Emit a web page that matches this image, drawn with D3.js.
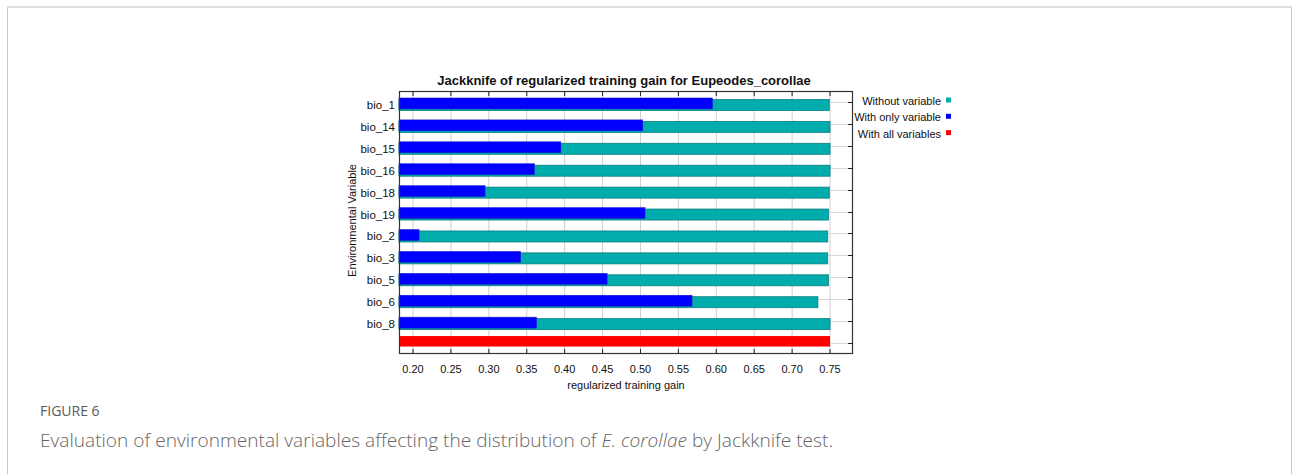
<!DOCTYPE html>
<html>
<head>
<meta charset="utf-8">
<script src="https://cdn.jsdelivr.net/npm/d3@7"></script>
<style>
  html, body { margin: 0; padding: 0; background: #fff; }
  svg { display: block; }
</style>
</head>
<body>
<svg id="chart" width="1293" height="474"></svg>
<script>
// Jackknife results (regularized training gain) for Eupeodes corollae
const variables = ["bio_1", "bio_14", "bio_15", "bio_16", "bio_18", "bio_19", "bio_2", "bio_3", "bio_5", "bio_6", "bio_8"];
const withoutVariable = [0.749, 0.750, 0.750, 0.750, 0.749, 0.748, 0.747, 0.747, 0.748, 0.734, 0.750];
const withOnlyVariable = [0.595, 0.503, 0.395, 0.360, 0.295, 0.506, 0.208, 0.342, 0.456, 0.568, 0.363];
const withAllVariables = 0.750;
const xTicks = [0.20, 0.25, 0.30, 0.35, 0.40, 0.45, 0.50, 0.55, 0.60, 0.65, 0.70, 0.75];
const legendLabels = ["Without variable", "With only variable", "With all variables"];

const colors = { without: "#00acac", withoutStroke: "#0b7f7f", only: "#0000ff", all: "#ff0000" };
const svg = d3.select("#chart");
const font = "'Liberation Sans', Arial, sans-serif";

// outer figure frame
svg.append("rect").attr("x", 7.5).attr("y", 7.5).attr("width", 1284).attr("height", 480)
  .attr("fill", "none").attr("stroke", "#c8c8c8").attr("stroke-width", 1);
svg.append("line").attr("x1", 7).attr("x2", 1292).attr("y1", 7).attr("y2", 7)
  .attr("stroke", "#dedede").attr("stroke-width", 2);

const plot = { left: 399, right: 853, top: 91, bottom: 354 };
const x = d3.scaleLinear().domain([0.1815, 0.7803]).range([plot.left, plot.right]);
const rows = variables.concat(["__all__"]);
const y = d3.scaleBand().domain(rows).range([plot.top, plot.bottom]);
const cy = d => y(d) + y.bandwidth() / 2;

const g = svg.append("g");

// vertical grid lines at the x ticks
g.selectAll(".vgrid").data(xTicks).join("line")
  .attr("x1", d => x(d)).attr("x2", d => x(d))
  .attr("y1", plot.top).attr("y2", plot.bottom)
  .attr("stroke", "#cfcfcf").attr("stroke-width", 1);

// horizontal grid lines at row centres
g.selectAll(".hgrid").data(rows).join("line")
  .attr("x1", plot.left).attr("x2", plot.right)
  .attr("y1", d => Math.round(cy(d)) + 0.5).attr("y2", d => Math.round(cy(d)) + 0.5)
  .attr("stroke", "#d8d8d8").attr("stroke-width", 1);

const x0 = x.range()[0];

// "without variable" bars
g.selectAll(".without").data(variables).join("rect")
  .attr("x", x0)
  .attr("y", d => cy(d) - 2.5)
  .attr("width", (d, i) => x(withoutVariable[i]) - x0)
  .attr("height", 11)
  .attr("fill", colors.without)
  .attr("stroke", colors.withoutStroke).attr("stroke-width", 0.8);

// "with only variable" bars
g.selectAll(".only").data(variables).join("rect")
  .attr("x", x0)
  .attr("y", d => cy(d) - 4)
  .attr("width", (d, i) => x(withOnlyVariable[i]) - x0)
  .attr("height", 11)
  .attr("fill", colors.only)
  .attr("stroke", "#2020c0").attr("stroke-width", 0.5);

// "with all variables" bar
g.append("rect")
  .attr("x", x0)
  .attr("y", cy("__all__") - 7)
  .attr("width", x(withAllVariables) - x0)
  .attr("height", 10.5)
  .attr("fill", colors.all);

// plot frame
g.append("rect")
  .attr("x", plot.left + 0.5).attr("y", plot.top + 0.5)
  .attr("width", plot.right - plot.left - 1).attr("height", plot.bottom - plot.top - 1)
  .attr("fill", "none").attr("stroke", "#333").attr("stroke-width", 1.2);

// inward ticks top and bottom
const tickLen = 5;
g.selectAll(".tb").data(xTicks).join("line")
  .attr("x1", d => x(d)).attr("x2", d => x(d))
  .attr("y1", plot.bottom).attr("y2", plot.bottom - tickLen)
  .attr("stroke", "#222");
g.selectAll(".tt").data(xTicks).join("line")
  .attr("x1", d => x(d)).attr("x2", d => x(d))
  .attr("y1", plot.top).attr("y2", plot.top + tickLen)
  .attr("stroke", "#222");
// right-side ticks at row centres
g.selectAll(".tr").data(rows).join("line")
  .attr("x1", plot.right).attr("x2", plot.right - tickLen)
  .attr("y1", d => Math.round(cy(d)) + 0.5).attr("y2", d => Math.round(cy(d)) + 0.5)
  .attr("stroke", "#222");

// x tick labels
g.selectAll(".xl").data(xTicks).join("text")
  .attr("x", d => x(d)).attr("y", 373)
  .attr("text-anchor", "middle")
  .attr("font-family", font).attr("font-size", 11).attr("fill", "#111")
  .text(d => d3.format(".2f")(d));

// y tick labels
g.selectAll(".yl").data(variables).join("text")
  .attr("x", 395).attr("y", d => cy(d) + 7)
  .attr("text-anchor", "end")
  .attr("font-family", font).attr("font-size", 11.5).attr("fill", "#111")
  .text(d => d);

// axis titles
g.append("text").attr("x", 626).attr("y", 389).attr("text-anchor", "middle")
  .attr("font-family", font).attr("font-size", 11).attr("fill", "#111")
  .text("regularized training gain");
g.append("text")
  .attr("transform", `translate(356,${(plot.top + plot.bottom) / 2 - 2}) rotate(-90)`)
  .attr("text-anchor", "middle")
  .attr("font-family", font).attr("font-size", 11).attr("fill", "#111")
  .text("Environmental Variable");

// chart title
g.append("text").attr("x", 624).attr("y", 85).attr("text-anchor", "middle")
  .attr("font-family", font).attr("font-size", 13).attr("font-weight", "bold").attr("fill", "#111")
  .text("Jackknife of regularized training gain for Eupeodes_corollae");

// legend
const legendColors = [colors.without, colors.only, colors.all];
const lg = g.selectAll(".lg").data(legendLabels).join("g")
  .attr("transform", (d, i) => `translate(0,${101 + i * 16.3})`);
lg.append("text").attr("x", 941).attr("y", 4).attr("text-anchor", "end")
  .attr("font-family", font).attr("font-size", 11).attr("fill", "#111")
  .text(d => d);
lg.append("rect").attr("x", 946).attr("y", -3.5).attr("width", 5).attr("height", 5)
  .attr("fill", (d, i) => legendColors[i]);

// figure caption
svg.append("text").attr("x", 40).attr("y", 416)
  .attr("font-family", "'Open Sans', 'Noto Sans', sans-serif").attr("font-size", 14)
  .attr("fill", "#5a5a5a").text("FIGURE 6");
const cap = svg.append("text").attr("x", 40).attr("y", 447)
  .attr("font-family", "'Open Sans', 'Noto Sans', sans-serif").attr("font-size", 19.1)
  .attr("font-weight", 300)
  .attr("fill", "#666");
cap.append("tspan").text("Evaluation of environmental variables affecting the distribution of ");
cap.append("tspan").attr("font-style", "italic").text("E. corollae");
cap.append("tspan").text(" by Jackknife test.");
</script>
</body>
</html>
